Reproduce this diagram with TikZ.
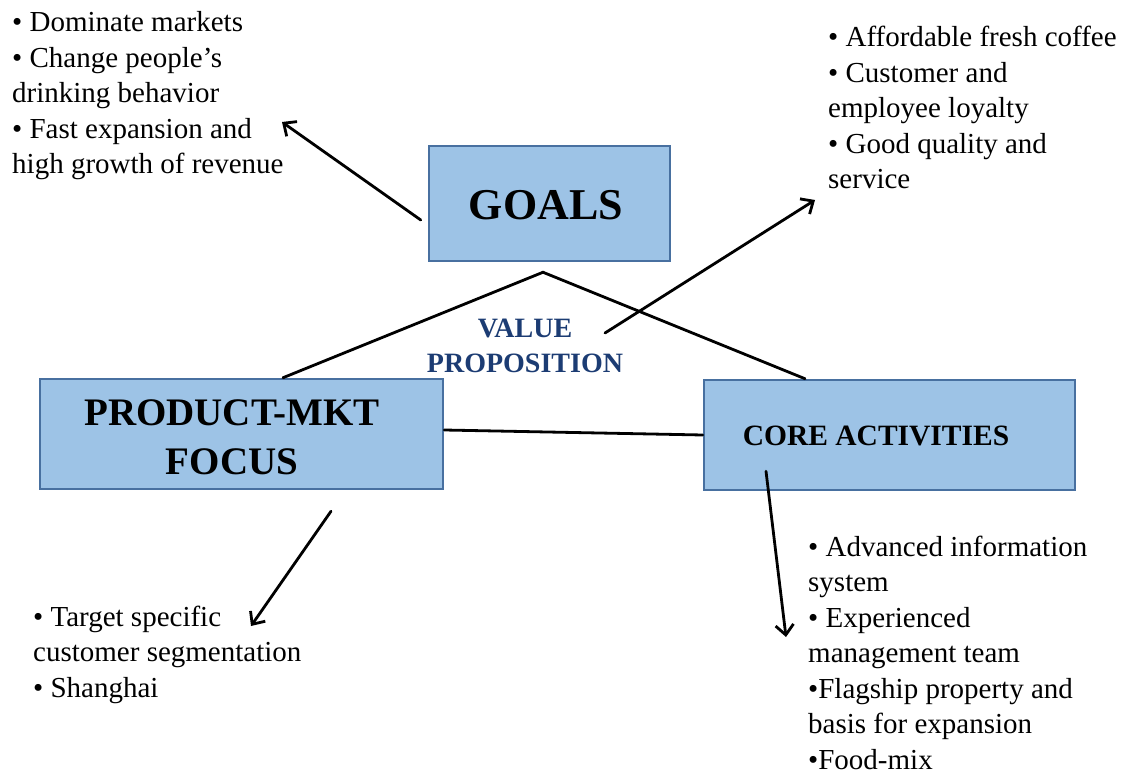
\documentclass[tikz,border=0pt]{standalone}
\usepackage{fontspec}
\setmainfont{Liberation Serif}
\usetikzlibrary{arrows.meta}
\definecolor{boxfill}{RGB}{157,195,230}
\definecolor{boxline}{RGB}{72,112,160}
\definecolor{vpblue}{RGB}{28,60,115}
\tikzset{
  box/.style={draw=boxline, fill=boxfill, line width=2.5pt, rectangle, inner sep=0pt},
  boxtext/.style={font=\bfseries, align=center, inner sep=0pt, anchor=base},
  bullets/.style={align=left, inner sep=0pt, anchor=base west, font=\fontsize{29}{35.5}\selectfont},
  conn/.style={line width=2.8pt, line cap=round},
  arr/.style={conn, -{Straight Barb[length=10pt,width=18pt,line width=2.8pt]}}
}
\begin{document}
\begin{tikzpicture}[x=1pt,y=-1pt]
\useasboundingbox (0,0) rectangle (1126,775);
% boxes
\node[box, minimum width=241pt, minimum height=115pt] (goals) at (549.5,203.5) {};
\node[box, minimum width=403pt, minimum height=110pt] (pm) at (241.5,434) {};
\node[box, minimum width=371pt, minimum height=110pt] (core) at (889.5,435) {};
% box texts (anchor base = baseline of the last line)
\node[boxtext, font=\bfseries\fontsize{44}{50}\selectfont] (goalst) at (546,220) {GOALS};
\node[boxtext, font=\bfseries\fontsize{39}{49}\selectfont] (pmt) at (232,474.5) {PRODUCT-MKT\\FOCUS};
\node[boxtext, font=\bfseries\fontsize{29.5}{35}\selectfont] (coret) at (876,445) {CORE ACTIVITIES};
\node[boxtext, text=vpblue, font=\bfseries\fontsize{28}{35}\selectfont] (vp) at (525,372.5) {VALUE\\PROPOSITION};
% bullet lists
\node[bullets] (goallist) at (12,174) {\textbullet{} Dominate markets\\\textbullet{} Change people’s\\drinking behavior\\\textbullet{} Fast expansion and\\high growth of revenue};
\node[bullets] (vplist) at (828,189) {\textbullet{} Affordable fresh coffee\\\textbullet{} Customer and\\employee loyalty\\\textbullet{} Good quality and\\service};
\node[bullets] (pmlist) at (33,697) {\textbullet{} Target specific\\customer segmentation\\\textbullet{} Shanghai};
\node[bullets] (corelist) at (808,769) {\textbullet{} Advanced information\\system\\\textbullet{} Experienced\\management team\\\textbullet Flagship property and\\basis for expansion\\\textbullet Food-mix};
% connectors
\coordinate (apex) at ([shift={(-6.5,10)}]goals.south);
\draw[conn] ([xshift=41.5pt]pm.north) -- (apex) -- ([xshift=-84.5pt]core.north);
\draw[conn] ([shift={(0,-4)}]pm.east) -- (core.west);
\coordinate (vpstart) at (605,333);
\coordinate (vpend) at (815,200);
\draw[arr] (vpstart) -- (vpend);
\coordinate (goalend) at (282,122);
\draw[arr] ([shift={(-7,16.5)}]goals.west) -- (goalend);
\coordinate (pmend) at (251,626);
\draw[arr] ([shift={(89.5,21)}]pm.south) -- (pmend);
\coordinate (coreend) at (786,637);
\draw[arr] ([shift={(-123.5,-20)}]core.south) -- (coreend);
\end{tikzpicture}
\end{document}
